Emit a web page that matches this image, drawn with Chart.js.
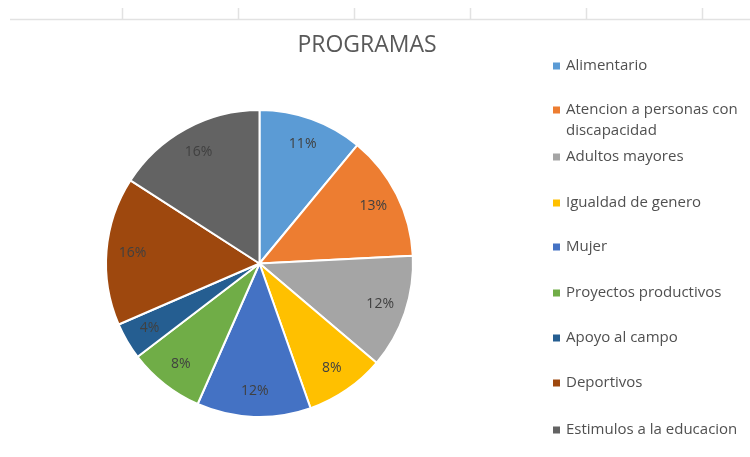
<!DOCTYPE html>
<html>
<head>
<meta charset="utf-8">
<script src="https://cdn.jsdelivr.net/npm/chart.js@4/dist/chart.umd.min.js"></script>
<style>
  html, body { margin: 0; padding: 0; background: #fff; }
  #wrap { width: 750px; height: 457px; position: relative; }
</style>
</head>
<body>
<div id="wrap"><canvas id="pie"></canvas></div>
<script>
const titulo = "PROGRAMAS"
const categorias = [
    "Alimentario",
    ["Atencion a personas con", "discapacidad"],
    "Adultos mayores",
    "Igualdad de genero",
    "Mujer",
    "Proyectos productivos",
    "Apoyo al campo",
    "Deportivos",
    "Estimulos a la educacion"
]
// porcentajes
const valores = [11, 13.2, 12, 8.4, 12, 8, 3.9, 15.6, 15.9]
const colores = ['#5B9BD5', '#ED7D31', '#A5A5A5', '#FFC000', '#4472C4', '#70AD47', '#255E91', '#9E480E', '#636363']
const legendaY = [66, 110, 157, 203, 247, 293, 338, 383, 430]

const fuente = "'Open Sans', 'Noto Sans', sans-serif"

// lineas de la hoja de calculo arriba
const hojaPlugin = {
    id: 'hoja',
    beforeDraw(chart) {
        let ctx = chart.ctx
        ctx.save()
        ctx.strokeStyle = '#e2e2e2'
        ctx.lineWidth = 1.5
        ctx.beginPath()
        ctx.moveTo(10, 19.5)
        ctx.lineTo(750, 19.5)
        let xs = [122, 238, 354, 470, 586, 702]
        xs.forEach(x => {
            ctx.moveTo(x + 0.5, 8)
            ctx.lineTo(x + 0.5, 20)
        })
        ctx.stroke()
        ctx.restore()
    }
}

const etiquetasPlugin = {
    id: 'etiquetas',
    afterDraw(chart) {
        let ctx = chart.ctx
        let meta = chart.getDatasetMeta(0)
        let data = chart.data.datasets[0].data
        let total = data.reduce((a, b) => a + b, 0)
        ctx.save()

        // porcentajes
        ctx.font = "14px " + fuente
        ctx.fillStyle = '#404040'
        ctx.textAlign = 'center'
        ctx.textBaseline = 'middle'
        meta.data.forEach((arc, i) => {
            let p = arc.getProps(['x', 'y', 'startAngle', 'endAngle', 'outerRadius'], true)
            let mid = (p.startAngle + p.endAngle) / 2
            let r = p.outerRadius * 0.83
            let txt = Math.round(data[i] / total * 100) + '%'
            ctx.fillText(txt, p.x + Math.cos(mid) * r, p.y + Math.sin(mid) * r)
        })

        // titulo
        ctx.font = "500 23px " + fuente
        ctx.fillStyle = '#595959'
        ctx.fillText(titulo, 367, 45)

        // leyenda
        ctx.font = "15px " + fuente
        ctx.textAlign = 'left'
        chart.data.labels.forEach((lab, i) => {
            let y = legendaY[i]
            ctx.fillStyle = colores[i]
            ctx.fillRect(553, y - 3.5, 7, 7)
            ctx.fillStyle = '#505050'
            let lineas = Array.isArray(lab) ? lab : [lab]
            lineas.forEach((l, j) => ctx.fillText(l, 566, y + j * 21))
        })
        ctx.restore()
    }
}

let ctx = document.getElementById('pie').getContext('2d')

let myPie = new Chart(ctx, {
    type: 'pie',
    data: {
        labels: categorias,
        datasets: [{
            data: valores,
            backgroundColor: colores,
            borderColor: '#ffffff',
            borderWidth: 2
        }]
    },
    options: {
        responsive: true,
        maintainAspectRatio: false,
        animation: false,
        layout: {
            padding: { left: 105, right: 336, top: 109, bottom: 39 }
        },
        plugins: {
            legend: { display: false },
            title: { display: false },
            tooltip: { enabled: false }
        }
    },
    plugins: [hojaPlugin, etiquetasPlugin]
})
</script>
</body>
</html>
